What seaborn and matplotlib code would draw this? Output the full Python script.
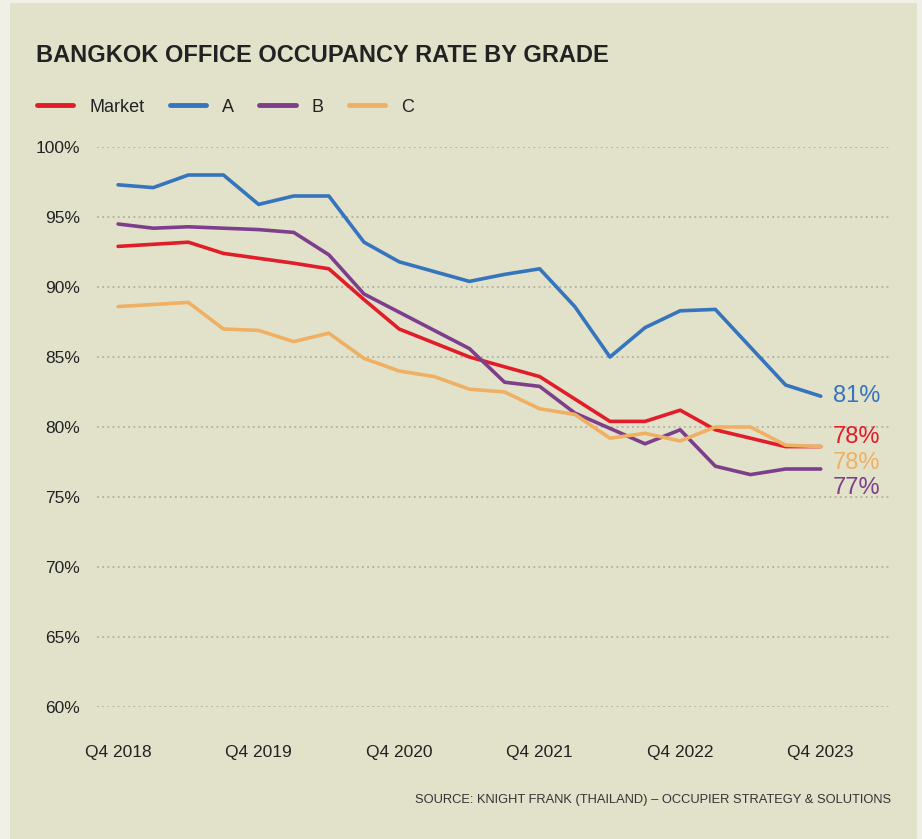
import matplotlib
matplotlib.use('Agg')
import matplotlib.pyplot as plt
import matplotlib.patches as mpatches
import numpy as np
import pandas as pd
import seaborn as sns

##### data #####
quarters = ['Q4 2018', 'Q1 2019', 'Q2 2019', 'Q3 2019', 'Q4 2019',
            'Q1 2020', 'Q2 2020', 'Q3 2020', 'Q4 2020',
            'Q1 2021', 'Q2 2021', 'Q3 2021', 'Q4 2021',
            'Q1 2022', 'Q2 2022', 'Q3 2022', 'Q4 2022',
            'Q1 2023', 'Q2 2023', 'Q3 2023', 'Q4 2023']
market = [92.9, 93.05, 93.2, 92.4, 92.05, 91.7, 91.3, 89.1, 87.0, 86.0, 85.0,
          84.3, 83.6, 82.0, 80.4, 80.4, 81.2, 79.8, 79.2, 78.6, 78.6]
grade_a = [97.3, 97.1, 98.0, 98.0, 95.9, 96.5, 96.5, 93.2, 91.8, 91.1, 90.4,
           90.9, 91.3, 88.6, 85.0, 87.1, 88.3, 88.4, 85.7, 83.0, 82.2]
grade_b = [94.5, 94.2, 94.3, 94.2, 94.1, 93.9, 92.3, 89.5, 88.2, 86.9, 85.6,
           83.2, 82.9, 81.0, 79.9, 78.8, 79.8, 77.2, 76.6, 77.0, 77.0]
grade_c = [88.6, 88.75, 88.9, 87.0, 86.9, 86.1, 86.7, 84.9, 84.0, 83.6, 82.7,
           82.5, 81.3, 80.9, 79.2, 79.55, 79.0, 80.0, 80.0, 78.7, 78.6]
series_names = ['Market', 'A', 'B', 'C']
end_labels = ['78%', '81%', '77%', '78%']
y_ticks = [60, 65, 70, 75, 80, 85, 90, 95, 100]
x_tick_labels = ['Q4 2018', 'Q4 2019', 'Q4 2020', 'Q4 2021', 'Q4 2022', 'Q4 2023']

colors = {'Market': '#e11d2a', 'A': '#3674be', 'B': '#7d3f8c', 'C': '#f0b064'}
# label nudges (points) so the end labels do not overlap
label_offsets = {'Market': 7, 'A': 0, 'B': -14, 'C': -12}

# long-form frame for seaborn
df = pd.DataFrame({
    'quarter': quarters * 4,
    'idx': list(range(len(quarters))) * 4,
    'grade': np.repeat(series_names, len(quarters)),
    'rate': market + grade_a + grade_b + grade_c,
})

##### figure #####
panel = '#e2e2ca'
outer = '#f0f0e6'
sns.set_theme(style='white')
plt.rcParams['font.family'] = ['Liberation Sans', 'DejaVu Sans']

fig = plt.figure(figsize=(9.22, 8.39), dpi=100, facecolor=outer)
fig.patches.append(mpatches.Rectangle((10 / 922, 0), 907 / 922, 836 / 839,
                                      transform=fig.transFigure,
                                      facecolor=panel, edgecolor='none', zorder=-5))

ax = fig.add_axes([97 / 922, 1 - 707 / 839, 794 / 922, 560 / 839])
ax.set_facecolor('none')
ax.set_zorder(2)

sns.lineplot(data=df, x='idx', y='rate', hue='grade', palette=colors,
             hue_order=series_names, linewidth=2.6, ax=ax, legend=True)

ax.set_ylim(60, 100)
ax.set_xlim(-0.6, 22.0)
ax.set_yticks(y_ticks)
ax.set_yticklabels([f'{v}%' for v in y_ticks])
ax.set_xticks(range(0, len(quarters), 4))
ax.set_xticklabels(x_tick_labels)
ax.set_xlabel('')
ax.set_ylabel('')
ax.tick_params(axis='y', length=0, pad=12, labelsize=12.5, labelcolor='#222222')
ax.tick_params(axis='x', length=0, pad=27, labelsize=12.5, labelcolor='#222222')
for s in ax.spines.values():
    s.set_visible(False)
ax.grid(axis='y', color='#a8a8a0', linestyle=(0, (1.2, 2.2)), linewidth=1.1)
ax.set_axisbelow(True)

# end-of-line labels
for name, lab in zip(series_names, end_labels):
    last = df[df['grade'] == name]['rate'].iloc[-1]
    ax.annotate(lab, xy=(len(quarters) - 1, last), xytext=(8.5, label_offsets[name]),
                textcoords='offset points', va='center', ha='left',
                fontsize=17, color=colors[name])

# legend
sns.move_legend(ax, 'center left', bbox_to_anchor=(37 / 922, 1 - 107 / 839),
                bbox_transform=fig.transFigure, ncol=4, frameon=False, title=None,
                fontsize=13, handlelength=2.0, handletextpad=0.9,
                columnspacing=1.4, borderpad=0, borderaxespad=0)
for line in ax.get_legend().get_lines():
    line.set_linewidth(3.5)
for t in ax.get_legend().get_texts():
    t.set_color('#222222')

# title and source
fig.text(36 / 922, 1 - 62 / 839, 'BANGKOK OFFICE OCCUPANCY RATE BY GRADE',
         fontsize=17, fontweight='bold', color='#222222', va='baseline', ha='left')
fig.text(891 / 922, 1 - 800 / 839,
         'SOURCE: KNIGHT FRANK (THAILAND) \u2013 OCCUPIER STRATEGY & SOLUTIONS',
         fontsize=9.3, color='#333333', va='center', ha='right')

fig.savefig('out.png', dpi=100, facecolor=outer)
